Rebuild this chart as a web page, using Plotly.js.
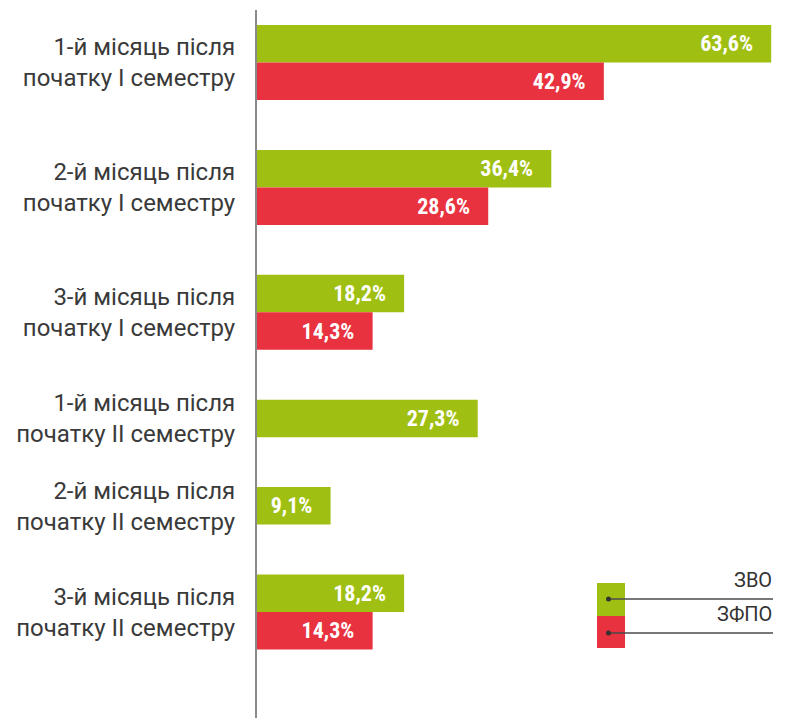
<!DOCTYPE html>
<html>
<head>
<meta charset="utf-8">
<script src="https://cdn.plot.ly/plotly-3.0.1.min.js"></script>
<style>
  html, body { margin: 0; padding: 0; background: #ffffff; }
  #chart { width: 810px; height: 718px; }
</style>
</head>
<body>
<div id="chart"></div>
<script>
// ---- data ----
const categories = [
  '1-й місяць після<br>початку І семестру',
  '2-й місяць після<br>початку І семестру',
  '3-й місяць після<br>початку І семестру',
  '1-й місяць після<br>початку ІІ семестру',
  '2-й місяць після<br>початку ІІ семестру',
  '3-й місяць після<br>початку ІІ семестру'
];
const seriesNames = ['ЗВО', 'ЗФПО'];
const zvo  = [63.6, 36.4, 18.2, 27.3, 9.1, 18.2];
const zfpo = [42.9, 28.6, 14.3, null, null, 14.3];

// ---- styles ----
const GREEN = '#9fbf12';
const RED = '#e8323f';
const GAP = 1.33;            // gap between groups, in bar-heights

// ---- layout of groups: bars stacked within a group, constant gap between groups ----
const yGreen = [], yRed = [], centers = [];
let cursor = 0;
categories.forEach((c, i) => {
  const n = (zvo[i] != null ? 1 : 0) + (zfpo[i] != null ? 1 : 0);
  const start = cursor;
  yGreen.push(start + 0.5);
  yRed.push(start + 1.5);
  centers.push(start + n / 2);
  cursor = start + n + GAP;
});

const W = 810, H = 718, L = 257, T = 10;
const pw = W - L, ph = H - T;
const px = x => (x - L) / pw;
const py = y => 1 - (y - T) / ph;

const common = {
  type: 'bar', orientation: 'h', width: 1,
  texttemplate: '%{x:.1f}%&nbsp;&nbsp;&nbsp;',
  textposition: 'inside', insidetextanchor: 'end',
  textfont: { family: '"Liberation Sans Narrow", "Roboto Condensed", Roboto, sans-serif', size: 22, color: '#ffffff', weight: 'bold' },
  constraintext: 'none', cliponaxis: false, hoverinfo: 'skip', showlegend: false
};

const traces = [
  Object.assign({}, common, { name: seriesNames[0], x: zvo, y: yGreen, marker: { color: GREEN } }),
  Object.assign({}, common, { name: seriesNames[1], x: zfpo, y: yRed, marker: { color: RED } })
];

const barPx = 37.5;
const yTop = -(25 - T) / barPx;
const yBot = yTop + ph / barPx;

const legendItems = [
  { name: seriesNames[0], color: GREEN, y0: 583, y1: 616, lineY: 599, textY: 580 },
  { name: seriesNames[1], color: RED,   y0: 616, y1: 648, lineY: 633, textY: 614 }
];
const shapes = [], annotations = [];
legendItems.forEach(it => {
  shapes.push({ type: 'rect', xref: 'paper', yref: 'paper', x0: px(597), x1: px(625), y0: py(it.y1), y1: py(it.y0),
    fillcolor: it.color, line: { width: 0 } });
  shapes.push({ type: 'line', xref: 'paper', yref: 'paper', x0: px(608), x1: px(773), y0: py(it.lineY), y1: py(it.lineY),
    line: { color: '#4a4a4a', width: 1.5 } });
  shapes.push({ type: 'circle', xref: 'paper', yref: 'paper', x0: px(606), x1: px(611), y0: py(it.lineY + 2.5), y1: py(it.lineY - 2.5),
    fillcolor: '#333333', line: { width: 0 } });
  annotations.push({ xref: 'paper', yref: 'paper', x: px(774), y: py(it.textY), xanchor: 'right', yanchor: 'middle',
    text: it.name, showarrow: false, font: { family: 'Roboto, sans-serif', size: 20, color: '#333333' } });
});

const layout = {
  width: W, height: H,
  margin: { l: L, r: 0, t: T, b: 0, pad: 0 },
  paper_bgcolor: '#ffffff', plot_bgcolor: '#ffffff',
  separators: ', ',
  barmode: 'overlay',
  showlegend: false,
  xaxis: { range: [0, 68.4], showgrid: false, zeroline: false, showticklabels: false, ticks: '', fixedrange: true },
  yaxis: {
    range: [yBot, yTop],
    tickmode: 'array', tickvals: centers, ticktext: categories,
    showgrid: false, zeroline: false, ticks: '',
    showline: true, linecolor: '#8a8a8a', linewidth: 2,
    ticklabelstandoff: 15,
    tickfont: { family: 'Roboto, sans-serif', size: 24, color: '#3a3a3a' }
  },
  shapes: shapes,
  annotations: annotations
};

Plotly.newPlot('chart', traces, layout, { displayModeBar: false, staticPlot: true });
</script>
</body>
</html>
